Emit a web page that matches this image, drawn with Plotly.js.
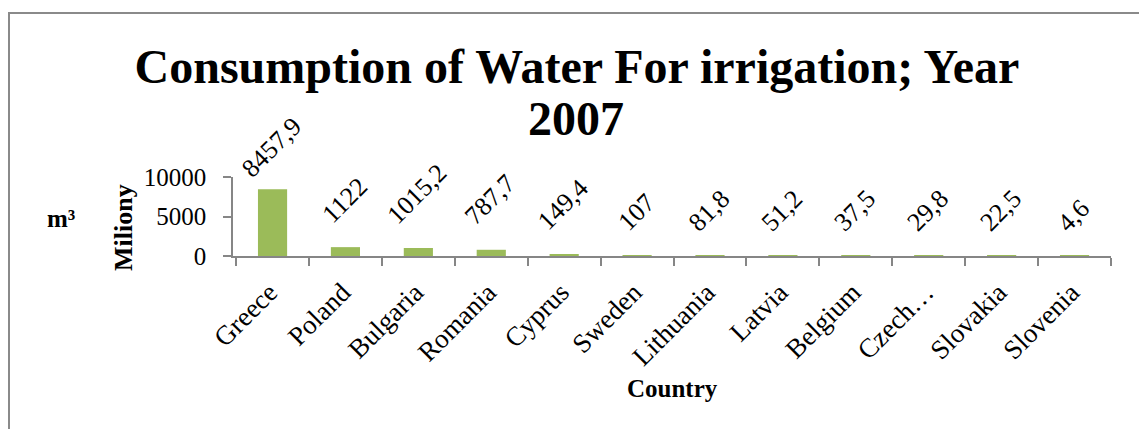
<!DOCTYPE html>
<html>
<head>
<meta charset="utf-8">
<script src="https://cdn.plot.ly/plotly-3.0.1.min.js"></script>
<style>
  html, body { margin: 0; padding: 0; background: #ffffff; overflow: hidden; }
  #wrap { position: relative; width: 1139px; height: 429px; overflow: hidden; }
  #chart { position: absolute; left: 0; top: 0; width: 1139px; height: 429px; }
  #frame { position: absolute; left: 8px; top: 12px; width: 2000px; height: 2000px;
           border-left: 2px solid #8a8a8a; border-top: 2px solid #8a8a8a; pointer-events: none; }
</style>
</head>
<body>
<div id="wrap">
  <div id="chart"></div>
  <div id="frame"></div>
</div>
<script>
// ---- data ----
const countries = ["Greece", "Poland", "Bulgaria", "Romania", "Cyprus", "Sweden",
                   "Lithuania", "Latvia", "Belgium", "Czech\u2026", "Slovakia", "Slovenia"];
const consumption = [8457.9, 1122, 1015.2, 787.7, 149.4, 107, 81.8, 51.2, 37.5, 29.8, 22.5, 4.6];
const yTickValues = [0, 5000, 10000];
const yTickLabels = ["0", "5000", "10000"];
const titleLine1 = "Consumption of Water For irrigation; Year";
const titleLine2 = "2007";
const xTitle = "Country";
const yTitle = "Miliony";
const yUnit = "m\u00b3";

// ---- styling ----
const FONT = "'Liberation Serif', 'Times New Roman', Times, serif";
const AXIS_COLOR = "#868686";
const BAR_COLOR = "#9BBB59";
const Y_MAX = 10000;

const fmt = v => String(v).replace(".", ",");

const labelAnnotations = countries.map((c, i) => ({
  x: c, y: consumption[i], xref: "x", yref: "y",
  text: fmt(consumption[i]), showarrow: false, textangle: -45,
  xanchor: "center", yanchor: "bottom",
  xshift: -1,
  // tall labels are pulled down to stay inside the chart area (as Excel does)
  yshift: consumption[i] > 0.8 * Y_MAX ? 3 : 16,
  font: { family: FONT, size: 26, color: "#000000" }
}));

const data = [{
  type: "bar",
  x: countries,
  y: consumption,
  marker: { color: BAR_COLOR },
  hoverinfo: "x+y"
}];

const layout = {
  width: 1139, height: 429,
  margin: { l: 233, r: 27.5, t: 177, b: 173 },
  paper_bgcolor: "#ffffff", plot_bgcolor: "#ffffff",
  showlegend: false,
  bargap: 0.6,
  title: {
    text: "<b>" + titleLine1 + "</b>",
    font: { family: FONT, size: 48, color: "#000000" },
    x: 577 / 1139, xanchor: "center", xref: "container",
    y: 1 - 66 / 429, yanchor: "middle", yref: "container",
    automargin: false
  },
  xaxis: {
    type: "category", automargin: false,
    showline: true, linecolor: AXIS_COLOR, linewidth: 1.5,
    ticks: "outside", tickson: "boundaries", ticklen: 8, tickcolor: AXIS_COLOR, tickwidth: 1.5,
    tickangle: -45,
    ticklabelstandoff: 8,
    ticklabelshift: -3,
    tickfont: { family: FONT, size: 27, color: "#000000" },
    showgrid: false, zeroline: false, fixedrange: true
  },
  yaxis: {
    range: [0, Y_MAX], automargin: false,
    tickmode: "array", tickvals: yTickValues, ticktext: yTickLabels,
    showline: true, linecolor: AXIS_COLOR, linewidth: 1.5,
    ticks: "outside", ticklen: 8, tickcolor: AXIS_COLOR, tickwidth: 1.5,
    ticklabelstandoff: 12,
    tickfont: { family: FONT, size: 25, color: "#000000" },
    showgrid: false, zeroline: false, fixedrange: true
  },
  annotations: [
    {
      text: "<b>" + titleLine2 + "</b>", xref: "paper", yref: "paper",
      x: 0, y: 1, xanchor: "center", yanchor: "middle",
      xshift: 576 - 233, yshift: 177 - 118, showarrow: false,
      font: { family: FONT, size: 48, color: "#000000" }
    },
    {
      text: "<b>" + xTitle + "</b>", xref: "paper", yref: "paper",
      x: 0.5, y: 0, xanchor: "center", yanchor: "middle",
      yshift: 256 - 388, showarrow: false,
      font: { family: FONT, size: 25, color: "#000000" }
    },
    {
      text: "<b>" + yTitle + "</b>", xref: "paper", yref: "paper",
      x: 0, y: 0, xanchor: "center", yanchor: "middle", textangle: -90,
      xshift: 123 - 233, yshift: 256 - 228, showarrow: false,
      font: { family: FONT, size: 26, color: "#000000" }
    },
    {
      text: "<b>" + yUnit + "</b>", xref: "paper", yref: "paper",
      x: 0, y: 0, xanchor: "center", yanchor: "middle",
      xshift: 60.5 - 233, yshift: 256 - 218, showarrow: false,
      font: { family: FONT, size: 25, color: "#000000" }
    }
  ].concat(labelAnnotations)
};

Plotly.newPlot("chart", data, layout, { displayModeBar: false, staticPlot: false });
</script>
</body>
</html>
